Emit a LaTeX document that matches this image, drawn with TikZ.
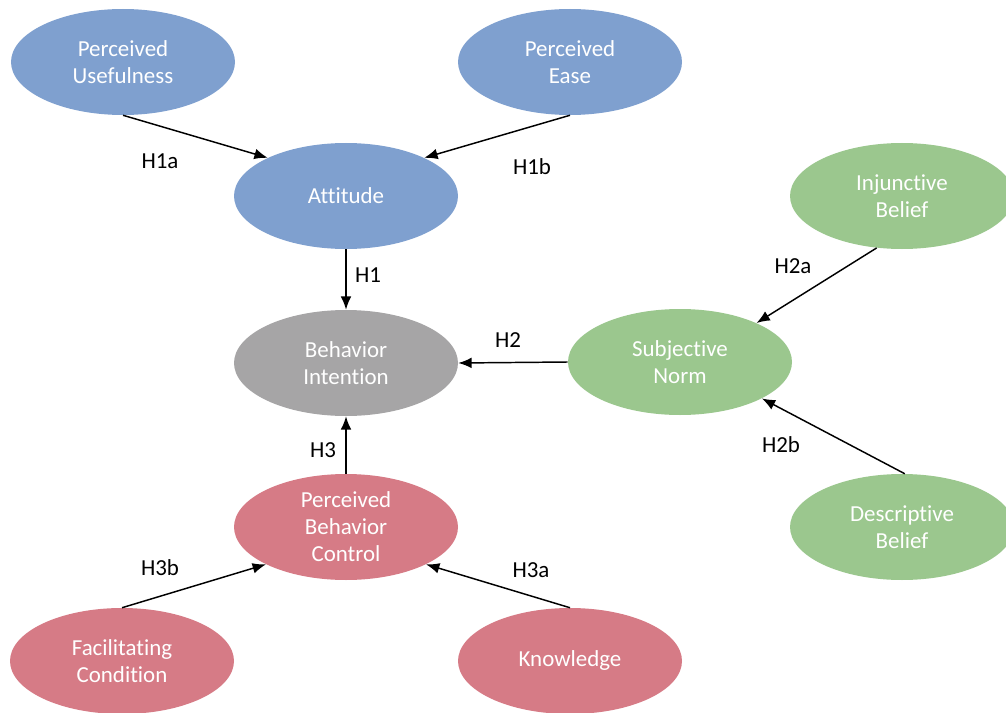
\documentclass[tikz,border=0pt]{standalone}
\usepackage{fontspec}
\setmainfont{Carlito}[Ligatures={NoCommon}]
\usepackage{tikz}
\usetikzlibrary{arrows.meta,shapes,positioning}

\definecolor{tamblue}{HTML}{7FA0CF}
\definecolor{tamgreen}{HTML}{9BC78E}
\definecolor{tamred}{HTML}{D67B86}
\definecolor{tamgray}{HTML}{A6A5A6}

\begin{document}
\begin{tikzpicture}[
    x = 0.75pt,
    y = -0.75pt,
    font = \fontsize{17.2}{20.3}\selectfont
  ]
  \tikzstyle{construct} = [
    ellipse,
    text centered,
    align          = center,
    text           = white,
    inner sep      = 0pt,
    minimum width  = 168pt,
    minimum height = 79.5pt
  ]
  \tikzstyle{tam}   = [construct, fill = tamblue]
  \tikzstyle{norm}  = [construct, fill = tamgreen]
  \tikzstyle{ctrl}  = [construct, fill = tamred]
  \tikzstyle{goal}  = [construct, fill = tamgray]
  \tikzstyle{arrow} = [draw, line width = 1.1pt, -{Latex[length = 10pt, width = 8pt]}]
  \tikzstyle{hyp}   = [text = black]

  \useasboundingbox (0,0) rectangle (1006,713);

  \node [tam]  at (123,62)  (usefulness)  {Perceived \\ Usefulness};
  \node [tam]  at (570,62)  (ease)        {Perceived \\ Ease};
  \node [tam]  at (346,196) (attitude)    {Attitude};
  \node [goal] at (346,363) (intention)   {Behavior \\ Intention};
  \node [norm] at (680,362) (subjnorm)    {Subjective \\ Norm};
  \node [norm] at (902,196) (injunctive)  {Injunctive \\ Belief};
  \node [norm] at (902,527) (descriptive) {Descriptive \\ Belief};
  \node [ctrl] at (346,527) (control)     {Perceived \\ Behavior \\ Control};
  \node [ctrl] at (122,661) (facilitating) {Facilitating \\ Condition};
  \node [ctrl] at (570,661) (knowledge)   {Knowledge};

  \path [arrow] (usefulness.south)  -- (attitude.154);
  \path [arrow] (ease.south)        -- (attitude.26);
  \path [arrow] (attitude.south)    -- (intention.north);
  \path [arrow] (subjnorm.west)     -- (intention.east);
  \path [arrow] (injunctive.244)    -- (subjnorm.27);
  \path [arrow] (descriptive.87)    -- (subjnorm.-24);
  \path [arrow] (control.north)     -- (intention.south);
  \path [arrow] (facilitating.north) -- (control.205);
  \path [arrow] (knowledge.north)   -- (control.-25);

  \node [hyp] at (160,161) (h1a) {H1a};
  \node [hyp] at (532,167) (h1b) {H1b};
  \node [hyp] at (368,275) (h1)  {H1};
  \node [hyp] at (508,340) (h2)  {H2};
  \node [hyp] at (793,266) (h2a) {H2a};
  \node [hyp] at (781,445) (h2b) {H2b};
  \node [hyp] at (323,450) (h3)  {H3};
  \node [hyp] at (160,568) (h3b) {H3b};
  \node [hyp] at (531,570) (h3a) {H3a};
\end{tikzpicture}
\end{document}
